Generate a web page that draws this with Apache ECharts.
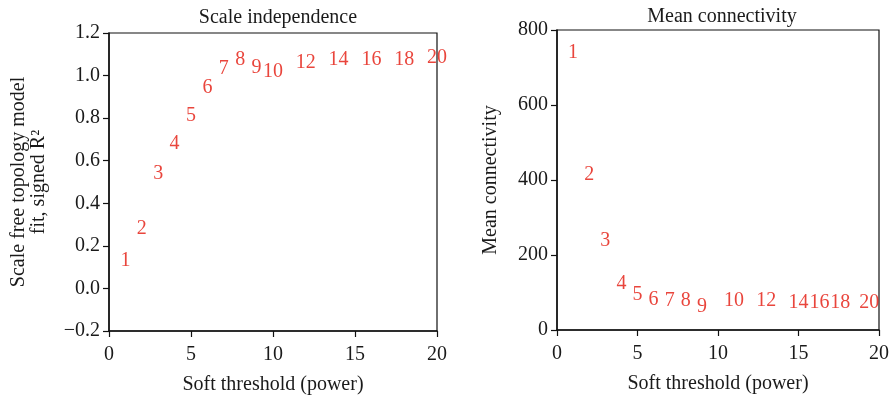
<!DOCTYPE html>
<html>
<head>
<meta charset="utf-8">
<script src="https://cdn.jsdelivr.net/npm/echarts@6/dist/echarts.min.js"></script>
<style>html,body{margin:0;padding:0;background:#fff}#c{width:889px;height:400px}</style>
</head>
<body>
<div id="c"></div>
<script>
const powers = [1,2,3,4,5,6,7,8,9,10,12,14,16,18,20];
const scaleFit = [0.13,0.28,0.54,0.68,0.81,0.945,1.03,1.075,1.035,1.02,1.06,1.075,1.075,1.075,1.085];
// label x positions as drawn in the right panel (labels were nudged apart in the original)
const connX = [1,2,3,4,5,6,7,8,9,11,13,15.0,16.3,17.6,19.4];
const meanConn = [739,413,238,123,93,80,78,78,62,78,77,74,74,74,74];
const xTicks = [0,5,10,15,20];

const FONT = '"Liberation Serif", "DejaVu Serif", serif';
const RED = '#e3170b';
const TXT = '#1a1a1a';
const FS = 20;

const chart = echarts.init(document.getElementById('c'), null, {renderer:'canvas'});

function xAxis(idx){
  return {
    gridIndex: idx, type:'value', min:xTicks[0], max:xTicks[xTicks.length-1], interval:xTicks[1]-xTicks[0],
    name:'Soft threshold (power)', nameLocation:'middle', nameGap:44,
    nameTextStyle:{fontFamily:FONT, fontSize:FS, color:TXT},
    axisLine:{show:true, onZero:false, lineStyle:{color:'#111', width:1.5}},
    axisTick:{show:true, inside:false, length:6, lineStyle:{color:'#111', width:1.2}},
    axisLabel:{fontFamily:FONT, fontSize:FS, color:TXT, margin:14},
    splitLine:{show:false}
  };
}
const lbl = {
  show:true, position:'inside',
  formatter: p => String(p.value[2]),
  fontFamily:FONT, fontSize:FS, color:RED, textBorderWidth:0, textShadowBlur:0
};

chart.setOption({
  animation:false,
  backgroundColor:'#fff',
  title:[
    {text:'Scale independence', left:273, top:3, textAlign:'center',
     textStyle:{fontFamily:FONT, fontSize:FS, fontWeight:'normal', color:TXT}},
    {text:'Mean connectivity', left:717, top:2, textAlign:'center',
     textStyle:{fontFamily:FONT, fontSize:FS, fontWeight:'normal', color:TXT}}
  ],
  grid:[
    {left:109, top:33, width:328, height:298, outerBoundsMode:'none', containLabel:false,
     show:true, borderColor:'#111', borderWidth:1.2, backgroundColor:'transparent'},
    {left:557, top:30, width:322, height:300, outerBoundsMode:'none', containLabel:false,
     show:true, borderColor:'#111', borderWidth:1.2, backgroundColor:'transparent'}
  ],
  xAxis:[xAxis(0), xAxis(1)],
  yAxis:[
    {gridIndex:0, type:'value', min:-0.2, max:1.2, interval:0.2,
     name:'Scale free topology model\nfit, signed R²', nameLocation:'middle', nameGap:60,
     nameTextStyle:{fontFamily:FONT, fontSize:FS, color:TXT, lineHeight:20, align:'center'},
     axisLine:{show:true, onZero:false, lineStyle:{color:'#111', width:1.5}},
     axisTick:{show:true, length:6, lineStyle:{color:'#111', width:1.2}},
     axisLabel:{fontFamily:FONT, fontSize:FS, color:TXT, margin:9,
       formatter: v => v.toFixed(1).replace('-', '\u2212')},
     splitLine:{show:false}},
    {gridIndex:1, type:'value', min:0, max:800, interval:200,
     name:'Mean connectivity', nameLocation:'middle', nameGap:56,
     nameTextStyle:{fontFamily:FONT, fontSize:FS, color:TXT},
     axisLine:{show:true, onZero:false, lineStyle:{color:'#111', width:1.5}},
     axisTick:{show:true, length:6, lineStyle:{color:'#111', width:1.2}},
     axisLabel:{fontFamily:FONT, fontSize:FS, color:TXT, margin:9},
     splitLine:{show:false}}
  ],
  series:[
    {type:'scatter', xAxisIndex:0, yAxisIndex:0,
     data:powers.map((p,i)=>[p, scaleFit[i], p]),
     symbolSize:1, itemStyle:{color:'rgba(0,0,0,0)'}, label:lbl, silent:true},
    {type:'scatter', xAxisIndex:1, yAxisIndex:1,
     data:powers.map((p,i)=>[connX[i], meanConn[i], p]),
     symbolSize:1, itemStyle:{color:'rgba(0,0,0,0)'}, label:lbl, silent:true}
  ]
});
</script>
</body>
</html>
